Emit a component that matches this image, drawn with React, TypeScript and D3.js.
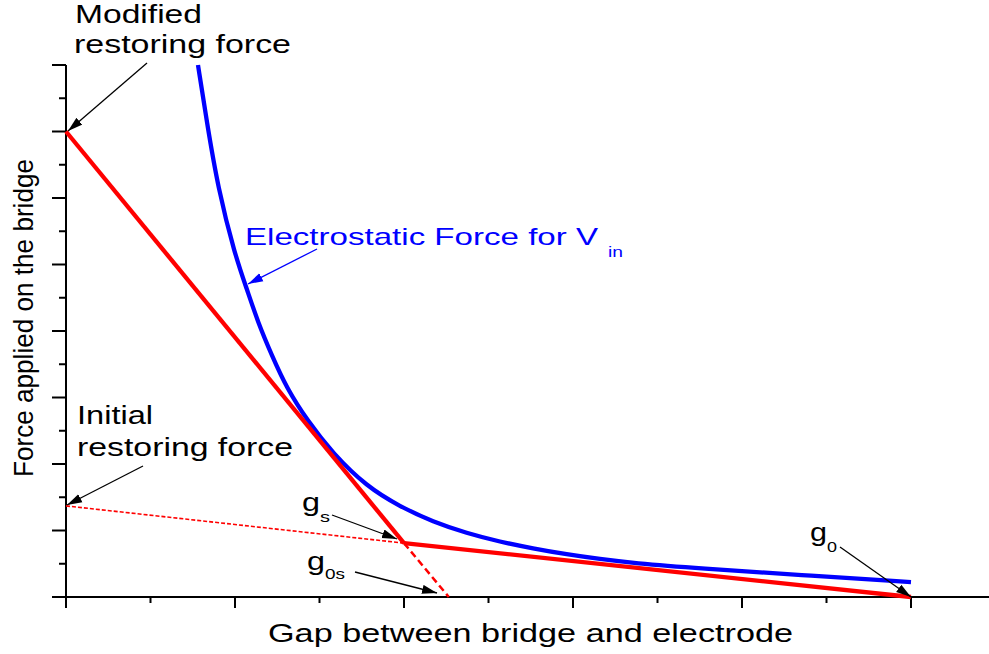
import React from "react";
import * as d3 from "d3";

// ---- data (in axis units) ----
const electroX = [0.781, 0.833, 0.899, 1.0, 1.069, 1.136, 1.217, 1.306, 1.432, 1.575, 1.779, 1.976, 2.172, 2.371, 2.568, 2.763, 2.963, 3.16, 3.355, 3.75, 4.343, 5.0];
const electroY = [8.0, 7.15, 6.15, 5.14, 4.64, 4.13, 3.64, 3.14, 2.64, 2.17, 1.66, 1.36, 1.13, 0.96, 0.83, 0.73, 0.64, 0.57, 0.51, 0.43, 0.33, 0.225];
const modifiedX = [0, 2];
const modifiedY = [7, 0.81];
const restoringX = [2, 5];
const restoringY = [0.81, 0];
const initialDashX = [0, 2];
const initialDashY = [1.37, 0.81];
const modifiedDashX = [2, 2.265];
const modifiedDashY = [0.81, 0];
const xMajorTicks = [0, 1, 2, 3, 4, 5];
const xMinorTicks = [0.5, 1.5, 2.5, 3.5, 4.5];
const yMajorTicks = [0, 1, 2, 3, 4, 5, 6, 7, 8];
const yMinorTicks = [0.5, 1.5, 2.5, 3.5, 4.5, 5.5, 6.5, 7.5];

const W = 989;
const H = 654;
const FONT = "'Liberation Sans', Arial, sans-serif";

const x = d3.scaleLinear().domain([0, 5]).range([66, 911]);
const y = d3.scaleLinear().domain([0, 8]).range([597, 65]);

const zip = (xs: number[], ys: number[]) => xs.map((v, i) => [v, ys[i]] as [number, number]);
const line = d3
  .line<[number, number]>()
  .x((d) => x(d[0]))
  .y((d) => y(d[1]));
const curve = d3
  .line<[number, number]>()
  .x((d) => x(d[0]))
  .y((d) => y(d[1]))
  .curve(d3.curveBasis);

function Label(props: { x: number; y: number; text: string; w: number; size?: number; fill?: string }) {
  const { x: lx, y: ly, text, w, size = 25, fill = "#000" } = props;
  return (
    <text
      x={lx}
      y={ly}
      fontFamily={FONT}
      fontSize={size}
      fill={fill}
      textLength={w}
      lengthAdjust="spacingAndGlyphs"
    >
      {text}
    </text>
  );
}

export default function App() {
  return (
    <svg width={W} height={H} style={{ position: "absolute", left: 0, top: 0, background: "#fff" }}>
      <defs>
        <marker id="ah" markerUnits="userSpaceOnUse" markerWidth="16" markerHeight="10" refX="15" refY="5" orient="auto">
          <path d="M0,0.5 L15,5 L0,9.5 Z" fill="#000" />
        </marker>
        <marker id="ahb" markerUnits="userSpaceOnUse" markerWidth="16" markerHeight="10" refX="15" refY="5" orient="auto">
          <path d="M0,0.5 L15,5 L0,9.5 Z" fill="#0000ff" />
        </marker>
      </defs>
      <rect x={0} y={0} width={W} height={H} fill="#fff" />

      {/* axes */}
      <line x1={52} x2={989} y1={y(0)} y2={y(0)} stroke="#000" strokeWidth={2} />
      <line x1={x(0)} x2={x(0)} y1={y(8)} y2={y(0)} stroke="#000" strokeWidth={2} />
      {xMajorTicks.map((t) => (
        <line key={"xM" + t} x1={x(t)} x2={x(t)} y1={y(0)} y2={y(0) + 11} stroke="#000" strokeWidth={2} />
      ))}
      {xMinorTicks.map((t) => (
        <line key={"xm" + t} x1={x(t)} x2={x(t)} y1={y(0)} y2={y(0) + 6} stroke="#000" strokeWidth={2} />
      ))}
      {yMajorTicks.map((t) => (
        <line key={"yM" + t} x1={x(0) - 14} x2={x(0)} y1={y(t)} y2={y(t)} stroke="#000" strokeWidth={2} />
      ))}
      {yMinorTicks.map((t) => (
        <line key={"ym" + t} x1={x(0) - 7} x2={x(0)} y1={y(t)} y2={y(t)} stroke="#000" strokeWidth={2} />
      ))}

      {/* dashed red lines */}
      <path d={line(zip(initialDashX, initialDashY)) || ""} fill="none" stroke="#ff0000" strokeWidth={1.6} strokeDasharray="4,2" />
      <path d={line(zip(modifiedDashX, modifiedDashY)) || ""} fill="none" stroke="#ff0000" strokeWidth={2.5} strokeDasharray="7,4" />

      {/* blue electrostatic force */}
      <path d={curve(zip(electroX, electroY)) || ""} fill="none" stroke="#0000ff" strokeWidth={4.3} />

      {/* red solid lines */}
      <path d={line(zip(modifiedX, modifiedY)) || ""} fill="none" stroke="#ff0000" strokeWidth={4.3} />
      <path d={line(zip(restoringX, restoringY)) || ""} fill="none" stroke="#ff0000" strokeWidth={4.3} />

      {/* annotation arrows */}
      <line x1={147} y1={63} x2={68} y2={131} stroke="#000" strokeWidth={1.3} markerEnd="url(#ah)" />
      <line x1={143} y1={466} x2={67} y2={505} stroke="#000" strokeWidth={1.3} markerEnd="url(#ah)" />
      <line x1={332} y1={515} x2={397} y2={539} stroke="#000" strokeWidth={1.3} markerEnd="url(#ah)" />
      <line x1={355} y1={572} x2={437} y2={593} stroke="#000" strokeWidth={1.3} markerEnd="url(#ah)" />
      <line x1={840} y1={547} x2={911} y2={597} stroke="#000" strokeWidth={1.3} markerEnd="url(#ah)" />
      <line x1={317} y1={249} x2={248} y2={284} stroke="#0000ff" strokeWidth={1.3} markerEnd="url(#ahb)" />

      {/* labels */}
      <Label x={75} y={23} text="Modified" w={127} />
      <Label x={74} y={53} text="restoring force" w={217} />
      <Label x={77} y={424} text="Initial" w={76} />
      <Label x={77} y={456} text="restoring force" w={216} />
      <Label x={245} y={245} text="Electrostatic Force for V" w={353} size={24} fill="#0000ff" />
      <Label x={608} y={257} text="in" w={15} size={15} fill="#0000ff" />
      <Label x={302} y={511} text="g" w={18} />
      <Label x={320} y={522} text="s" w={10} size={15} />
      <Label x={307} y={570} text="g" w={18} />
      <Label x={325} y={579} text="0s" w={20} size={15} />
      <Label x={810} y={541} text="g" w={17} />
      <Label x={827} y={552} text="0" w={10} size={15} />
      <Label x={268} y={642} text="Gap between bridge and electrode" w={525} />
      <text
        transform="translate(33,318) rotate(-90)"
        textAnchor="middle"
        fontFamily={FONT}
        fontSize={27}
        fill="#000"
        textLength={318}
        lengthAdjust="spacingAndGlyphs"
      >
        Force applied on the bridge
      </text>
    </svg>
  );
}
